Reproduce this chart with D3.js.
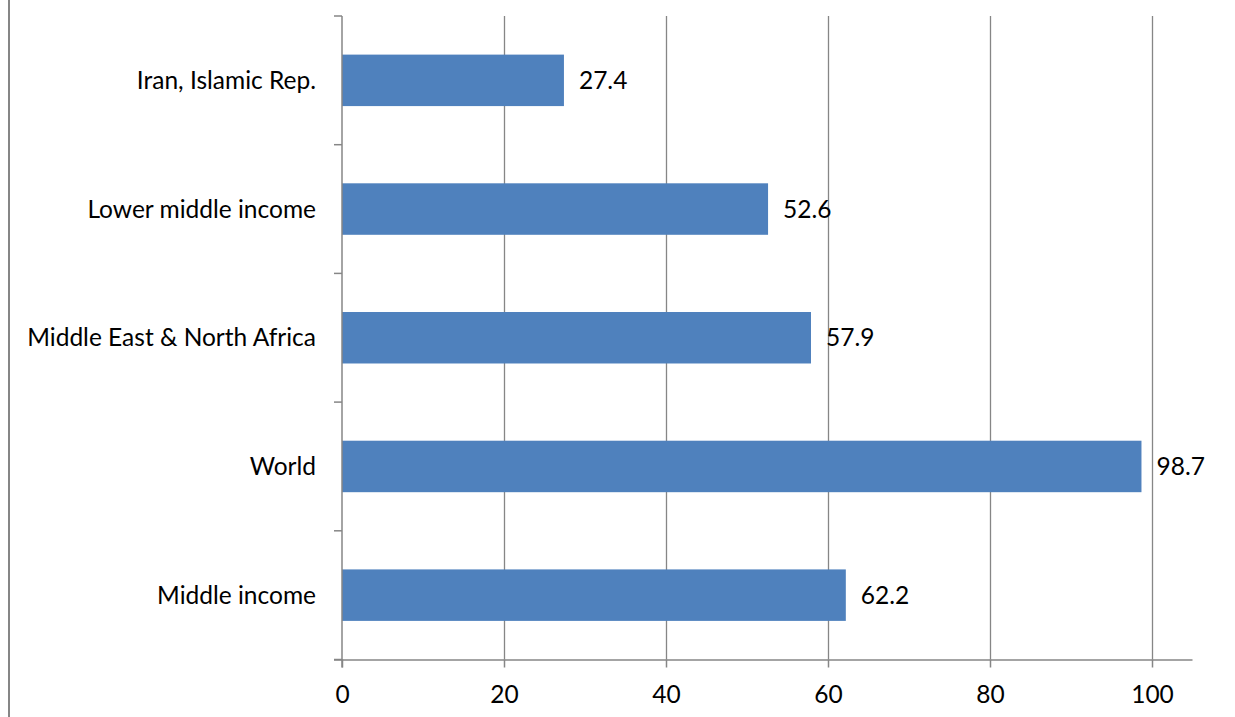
<!DOCTYPE html>
<html><head><meta charset="utf-8">
<script src="https://cdn.jsdelivr.net/npm/d3@7"></script>
<style>body{margin:0;background:#fff;} svg{display:block;} text{font-family:Lato,"Open Sans",sans-serif;fill:#000;}</style>
</head><body>
<svg id="c" width="1235" height="717"></svg>
<script>
const categories = ["Iran, Islamic Rep.", "Lower middle income", "Middle East & North Africa", "World", "Middle income"];
const values = [27.4, 52.6, 57.9, 98.7, 62.2];
const tickValues = [0, 20, 40, 60, 80, 100];

(function () {
const svg = d3.select("#c");
const pL = 342, pR = 1192.5, pT = 16, pB = 659.5;
const x = d3.scaleLinear().domain([0, 105]).range([pL, pR]);
const y = d3.scaleBand().domain(categories).range([pT, pB]).paddingInner(0.6).paddingOuter(0.3);
const grey = "#868686";
const fs = 24.5;

// outer left border
svg.append("line").attr("x1", 9).attr("x2", 9).attr("y1", 0).attr("y2", 717).attr("stroke", grey).attr("stroke-width", 2);

// gridlines
svg.append("g").selectAll("line").data(tickValues.filter(d => d > 0)).join("line")
  .attr("x1", d => Math.round(x(d)) + 0.5).attr("x2", d => Math.round(x(d)) + 0.5)
  .attr("y1", pT).attr("y2", pB).attr("stroke", grey).attr("stroke-width", 1.3);

// bars
svg.append("g").selectAll("rect").data(categories).join("rect")
  .attr("x", x(0)).attr("y", d => y(d))
  .attr("width", (d, i) => x(values[i]) - x(0)).attr("height", y.bandwidth())
  .attr("fill", "#4F81BD");

// x axis
const xa = svg.append("g").attr("transform", `translate(0,${pB})`)
  .call(d3.axisBottom(x).tickValues(tickValues).tickSize(8).tickPadding(18).tickFormat(d3.format("d")));
xa.select(".domain").attr("d", `M${pL - 8},0.5H${pR}`).attr("stroke", grey).attr("stroke-width", 1.5);
xa.selectAll(".tick line").attr("stroke", grey).attr("stroke-width", 1.5);
xa.selectAll(".tick text").attr("font-size", fs).attr("font-family", "Lato, 'Open Sans', sans-serif").attr("fill", "#000");

// y axis
const ya = svg.append("g");
ya.append("line").attr("x1", pL).attr("x2", pL).attr("y1", pT).attr("y2", pB + 8).attr("stroke", grey).attr("stroke-width", 1.5);
const edges = d3.range(categories.length + 1).map(i => pT + i * y.step());
ya.selectAll("line.t").data(edges).join("line").attr("class", "t")
  .attr("x1", pL - 8).attr("x2", pL).attr("y1", d => d).attr("y2", d => d)
  .attr("stroke", grey).attr("stroke-width", 1.5);
ya.selectAll("text").data(categories).join("text")
  .attr("x", 316).attr("y", d => y(d) + y.bandwidth() / 2).attr("dy", "0.35em")
  .attr("text-anchor", "end").attr("font-size", fs).text(d => d);

// value labels
svg.append("g").selectAll("text").data(categories).join("text")
  .attr("x", (d, i) => x(values[i]) + 15).attr("y", d => y(d) + y.bandwidth() / 2).attr("dy", "0.35em")
  .attr("font-size", fs).text((d, i) => values[i].toFixed(1));
})();
</script>
</body></html>
